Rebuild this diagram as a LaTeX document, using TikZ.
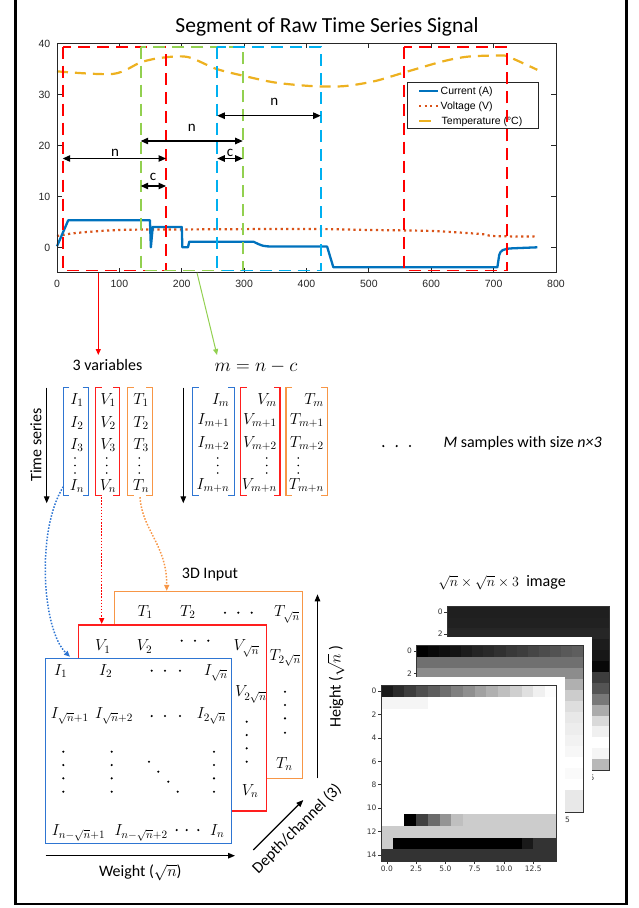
\RequirePackage{fix-cm}
\documentclass[tikz,border=0pt]{standalone}
\usepackage{fontspec}
\setmainfont{Carlito}
\newfontfamily\arialf{Liberation Sans}
\newfontfamily\djvf{DejaVu Sans}
\usetikzlibrary{arrows.meta,calc}
\definecolor{axgray}{HTML}{262626}
\definecolor{cI}{HTML}{0072BD}
\definecolor{cV}{HTML}{D95319}
\definecolor{cT}{HTML}{EDB120}
\definecolor{wred}{HTML}{FF0000}
\definecolor{wgreen}{HTML}{92D050}
\definecolor{wblue}{HTML}{00B0F0}
\definecolor{mblue}{HTML}{2E75D2}
\definecolor{mred}{HTML}{FF1E1E}
\definecolor{morange}{HTML}{F79646}
\definecolor{hmtxt}{HTML}{333333}
\newcommand\hmrow[5]{\foreach \gv [count=\ci from 0] in {#5}{\fill[white!\gv!black] ({#1+\ci*#3},{#2}) rectangle ++({#3+0.25},{#4+0.25});}}
\newcommand\hmbox[4]{%
 \draw[hmframe] (#1,#2) rectangle ({#1+15*#3},{#2+15*#4});
 \foreach \ri in {0,2,...,14}{\draw[hmframe] (#1,{#2+(\ri+0.5)*#4}) -- ++(-3,0);}
 \foreach \xv in {0,2.5,5,7.5,10,12.5}{\draw[hmframe] ({#1+(\xv+0.5)*#3},{#2+15*#4}) -- ++(0,3);}}
\newcommand\mbrk[2]{%
 \draw[#2, line width=1.4pt] ($(#1.north west)+(6,0)$) -- (#1.north west) -- (#1.south west) -- ($(#1.south west)+(6,0)$);
 \draw[#2, line width=1.4pt] ($(#1.north east)+(-6,0)$) -- (#1.north east) -- (#1.south east) -- ($(#1.south east)+(-6,0)$);}
\begin{document}
\begin{tikzpicture}[x=1pt,y=-1pt,
  ticklbl/.style={inner sep=0pt, font=\arialf\fontsize{10.5}{12}\selectfont, text=axgray},
  legtxt/.style={inner sep=0pt, font=\arialf\fontsize{10.5}{12}\selectfont, text=black},
  txt/.style={inner sep=0pt, font=\fontsize{16}{19}\selectfont},
  nclbl/.style={inner sep=0pt, font=\fontsize{15}{18}\selectfont, anchor=base},
  ment/.style={inner sep=0pt, font=\fontsize{16}{19}\selectfont},
  axisline/.style={draw=axgray, line width=0.8pt},
  winbox/.style={line width=1.8pt, dash pattern=on 12pt off 7pt},
  dimarr/.style={line width=1.1pt, {Triangle[length=7.5pt,width=6.5pt]}-{Triangle[length=7.5pt,width=6.5pt]}},
  bigarr/.style={line width=1.2pt, -{Triangle[length=7pt,width=5.5pt]}},
  thinarr/.style={line width=1pt, -{Triangle[length=6pt,width=5pt]}},
  dotconn/.style={line width=1.5pt, dash pattern=on 1.5pt off 1.6pt, -{Triangle[length=6pt,width=5pt]}},
  brnode/.style={inner sep=0pt, outer sep=0pt, draw=none},
  box3d/.style={fill=white, line width=1.3pt, inner sep=0pt, outer sep=0pt, anchor=north west},
  hmframe/.style={draw=hmtxt, line width=0.6pt},
  hmlab/.style={inner sep=0pt, font=\djvf\fontsize{7.5}{9}\selectfont, text=hmtxt},
  mdot/.style={fill=black},
]
\useasboundingbox (0,0) rectangle (638,908);
% outer frame
\draw[line width=2.8pt] (15.3,-10) -- (15.3,904) -- (626.3,904) -- (626.3,-10);

% title
\node[inner sep=0pt, font=\fontsize{21.5}{26}\selectfont, anchor=base] (title) at (327,32.5) {Segment of Raw Time Series Signal};

% curves
\begin{scope}[shift={(57pt,-247.3pt)}, x=0.62375pt, y=5.1pt]
 \draw[cT, line width=2.2pt, dash pattern=on 11pt off 7pt] plot[smooth, tension=0.5] coordinates {(0,34.5) (90,34) (135,36.3) (170,37.2) (210,37.3) (255,35) (300,33.6) (350,32.3) (410,31.6) (460,31.6) (510,32.6) (560,34.4) (620,36.5) (660,37.4) (710,37.6) (725,37.3) (770,34.8)};
 \draw[cV, line width=2.2pt, dash pattern=on 2.2pt off 3.4pt] plot[smooth] coordinates {(0,2.2) (30,2.8) (100,3.4) (200,3.5) (400,3.6) (500,3.4) (600,3.2) (680,2.6) (700,2.2) (770,2.1)};
 \draw[cI, line width=2.3pt, line join=round] (0,0.2) -- (18,5.3) -- (149,5.3) -- (150.5,0) -- (153.5,4) -- (200,4) -- (201,0) -- (210,0) -- (212,1.1) -- (315,1.1) .. controls (330,0.2) .. (346,0.15) -- (433,0.15) -- (443,-3.9) -- (706,-3.9) -- (709,-1.5) .. controls (711,-0.6) and (715,-0.3) .. (730,-0.2) -- (770,0);
\end{scope}

% axes
\draw[axisline] (57,43.3) rectangle (556,272.8);
\foreach \tk in {100,200,...,700}{\pgfmathsetmacro\px{57+0.62375*\tk}
  \draw[axisline] (\px,272.8) -- ++(0,-5); \draw[axisline] (\px,43.3) -- ++(0,5);}
\foreach \vk in {0,10,20,30}{\pgfmathsetmacro\py{247.3-5.1*\vk}
  \draw[axisline] (57,\py) -- ++(5,0); \draw[axisline] (556,\py) -- ++(-5,0);}
\foreach \tk in {0,100,...,800}{\pgfmathsetmacro\px{57+0.62375*\tk}
  \node[ticklbl, anchor=base] (xt\tk) at (\px,287.5) {\tk};}
\foreach \vk in {0,10,20,30,40}{\pgfmathsetmacro\py{247.3-5.1*\vk+3.8}
  \node[ticklbl, anchor=base east] (yt\vk) at (50.5,\py) {\vk};}

% legend
\node[draw=axgray, line width=0.8pt, fill=white, minimum width=131pt, minimum height=46.6pt, anchor=north west, inner sep=0pt] (leg) at (406.7,81.7) {};
\draw[cI, line width=2.2pt] (419,90.7) -- (438,90.7);
\draw[cV, line width=2.2pt, dash pattern=on 2.2pt off 3.4pt] (419,106) -- (438,106);
\draw[cT, line width=2.2pt] (419,121) -- (431,121);
\node[legtxt, anchor=base west] (l1) at (440.5,94.5) {Current (A)};
\node[legtxt, anchor=base west] (l2) at (440.5,109.8) {Voltage (V)};
\node[legtxt, anchor=base west] (l3) at (441.5,124.8) {Temperature (°C)};

% windows
\draw[winbox, wred] (62.7,46.7) rectangle (166,270.5);
\draw[winbox, wgreen] (140.7,46.7) rectangle (242.7,270.5);
\draw[winbox, wblue] (217.3,46.7) rectangle (320.7,270.5);
\draw[winbox, wred] (404.3,46.7) rectangle (507.3,270.5);

% dimension arrows
\coordinate (n1a) at (62.7,158.5); \coordinate (n1b) at (166,158.5);
\coordinate (c1a) at (140.7,186); \coordinate (c1b) at (166,186);
\coordinate (n2a) at (140.7,141); \coordinate (n2b) at (242.7,141);
\coordinate (c2a) at (217.3,158.5); \coordinate (c2b) at (242.7,158.5);
\coordinate (n3a) at (217.3,115.7); \coordinate (n3b) at (320.7,115.7);
\draw[dimarr] (n1a) -- (n1b);
\draw[dimarr] (c1a) -- (c1b);
\draw[dimarr] (n2a) -- (n2b);
\draw[dimarr] (c2a) -- (c2b);
\draw[dimarr] (n3a) -- (n3b);
\node[nclbl] (n1l) at (115,156.5) {n};
\node[nclbl] (c1l) at (153,180.5) {c};
\node[nclbl] (n2l) at (191.7,131.5) {n};
\node[nclbl] (c2l) at (230,156.5) {c};
\node[nclbl] (n3l) at (274.3,105) {n};

% arrows to matrices
\coordinate (pr) at (98.3,272.8); \coordinate (vr) at (98.3,355);
\coordinate (pg) at (197,272.8); \coordinate (vg) at (217,355);
\draw[thinarr, wred] (pr) -- (vr);
\draw[thinarr, wgreen] (pg) -- (vg);

\node[txt, anchor=base] (vars) at (107.5,370.7) {3 variables};
\node[inner sep=0pt, font=\fontsize{19}{22}\selectfont, anchor=base] (mnc) at (256,371.7) {$m = n - c$};

% time series arrows
\coordinate (ts1a) at (46.7,387.7); \coordinate (ts1b) at (46.7,503.3);
\coordinate (ts2a) at (183.3,387.7); \coordinate (ts2b) at (183.3,503.3);
\draw[bigarr] (ts1a) -- (ts1b);
\draw[bigarr] (ts2a) -- (ts2b);
\node[txt, anchor=base, rotate=90] (tslab) at (41.3,445) {Time series};

% brackets left group
\node[brnode, minimum width=25.4pt, minimum height=108pt] (Ib) at (76,441.7) {};
\node[brnode, minimum width=23.6pt, minimum height=108pt] (Vb) at (107.5,441.7) {};
\node[brnode, minimum width=24.6pt, minimum height=108pt] (Tb) at (140,441.7) {};
\mbrk{Ib}{mblue}\mbrk{Vb}{mred}\mbrk{Tb}{morange}
% brackets right group
\node[brnode, minimum width=41.6pt, minimum height=108pt] (Imb) at (213.5,441.7) {};
\node[brnode, minimum width=39.3pt, minimum height=108pt] (Vmb) at (260.35,441.7) {};
\node[brnode, minimum width=41.3pt, minimum height=108pt] (Tmb) at (306.65,441.7) {};
\mbrk{Imb}{mblue}\mbrk{Vmb}{mred}\mbrk{Tmb}{morange}

% left entries
\node[ment, anchor=base] (a11) at (77,404.5) {$I_1$};
\node[ment, anchor=base] (a12) at (77,427) {$I_2$};
\node[ment, anchor=base] (a13) at (77,449.5) {$I_3$};
\node[ment, anchor=base] (a1n) at (77,490.5) {$I_n$};
\node[ment, anchor=base] (a21) at (108,404.5) {$V_1$};
\node[ment, anchor=base] (a22) at (108,427) {$V_2$};
\node[ment, anchor=base] (a23) at (108,449.5) {$V_3$};
\node[ment, anchor=base] (a2n) at (108,490.5) {$V_n$};
\node[ment, anchor=base] (a31) at (141,404.5) {$T_1$};
\node[ment, anchor=base] (a32) at (141,427) {$T_2$};
\node[ment, anchor=base] (a33) at (141,449.5) {$T_3$};
\node[ment, anchor=base] (a3n) at (141,490.5) {$T_n$};
% right entries
\node[ment, anchor=base east] (b11) at (229.5,404.5) {$I_m$};
\node[ment, anchor=base east] (b12) at (229.5,424.5) {$I_{m+1}$};
\node[ment, anchor=base east] (b13) at (229.5,447.5) {$I_{m+2}$};
\node[ment, anchor=base east] (b1n) at (229.5,489.5) {$I_{m+n}$};
\node[ment, anchor=base east] (b21) at (277,404.5) {$V_m$};
\node[ment, anchor=base east] (b22) at (277,424.5) {$V_{m+1}$};
\node[ment, anchor=base east] (b23) at (277,447.5) {$V_{m+2}$};
\node[ment, anchor=base east] (b2n) at (277,489.5) {$V_{m+n}$};
\node[ment, anchor=base east] (b31) at (324,404.5) {$T_m$};
\node[ment, anchor=base east] (b32) at (324,424.5) {$T_{m+1}$};
\node[ment, anchor=base east] (b33) at (324,447.5) {$T_{m+2}$};
\node[ment, anchor=base east] (b3n) at (324,489.5) {$T_{m+n}$};
% vertical dots
\foreach \dx in {75,106.7,139.3,217.7,266.7,298.3}{\foreach \dy in {458,465.5,473}{\fill[mdot] (\dx,\dy) circle (0.9pt);}}
% ellipsis
\foreach \dx in {383.3,396.7,410}{\fill[mdot] (\dx,446) circle (1.2pt);}
\node[txt, anchor=base west] (msz) at (443.3,447.3) {\textit{M} samples with size \textit{n×3}};

% 3D boxes
\node[box3d, draw=morange, minimum width=188.4pt, minimum height=186.6pt] (Tbox) at (114.3,591.7) {};
\node[box3d, draw=mred, minimum width=188.4pt, minimum height=186pt] (Vbox) at (78.3,625) {};
\node[box3d, draw=mblue, minimum width=186pt, minimum height=185pt] (Ibox) at (45.7,658.3) {};
\node[txt, anchor=base] (in3d) at (210,578.5) {3D Input};

% dotted connectors
\draw[dotconn, mblue] ($(Ib.south west)+(0,-9)$) .. controls (36,530) and (42,630) .. ($(Ibox.north west)+(24.3,-1.5)$);
\draw[dotconn, wred] ($(Vb.south west)+(6,1.5)$) -- ($(Vbox.north west)+(23.4,-1)$);
\draw[dotconn, morange] ($(Tb.south)+(0,1.5)$) .. controls (142,530) and (167,545) .. ($(Tbox.north west)+(52.4,-0.8)$);

% T entries
\node[ment, anchor=base west] (t1) at (137.3,616) {$T_1$};
\node[ment, anchor=base west] (t2) at (180,616) {$T_2$};
\node[ment, anchor=base west] (tsn) at (274,616.7) {$T_{\sqrt{n}}$};
\node[ment, anchor=base west] (t2sn) at (269.3,660) {$T_{2\sqrt{n}}$};
\node[ment, anchor=base west] (tn) at (276,768.3) {$T_n$};
\foreach \dx in {225,238.3,251.7}{\fill[mdot] (\dx,612.7) circle (1.2pt);}
\foreach \dy in {691.7,705,718.3,732.7}{\fill[mdot] (285,\dy) circle (1.2pt);}
% V entries
\node[ment, anchor=base west] (v1) at (95,650.7) {$V_1$};
\node[ment, anchor=base west] (v2) at (136.7,650.7) {$V_2$};
\node[ment, anchor=base west] (vsn) at (233.3,650.7) {$V_{\sqrt{n}}$};
\node[ment, anchor=base west] (v2sn) at (235,696.7) {$V_{2\sqrt{n}}$};
\node[ment, anchor=base west] (vn) at (241.7,795) {$V_n$};
\foreach \dx in {181.7,195,208.3}{\fill[mdot] (\dx,640.7) circle (1.2pt);}
\foreach \dy in {721.7,735,748.3,761.7}{\fill[mdot] (246.7,\dy) circle (1.2pt);}
% I entries
\node[ment, anchor=base west] (i1) at (54,675) {$I_1$};
\node[ment, anchor=base west] (i2) at (99,675) {$I_2$};
\node[ment, anchor=base west] (isn) at (204,675) {$I_{\sqrt{n}}$};
\node[ment, anchor=base west] (isn1) at (50.7,718.3) {$I_{\sqrt{n}+1}$};
\node[ment, anchor=base west] (isn2) at (95,718.3) {$I_{\sqrt{n}+2}$};
\node[ment, anchor=base west] (i2sn) at (196.7,718.3) {$I_{2\sqrt{n}}$};
\node[ment, anchor=base west] (inm1) at (51.7,835) {$I_{n-\sqrt{n}+1}$};
\node[ment, anchor=base west] (inm2) at (114.3,835) {$I_{n-\sqrt{n}+2}$};
\node[ment, anchor=base west] (inn) at (210,835) {$I_n$};
\foreach \dx in {151.7,165,180}{\fill[mdot] (\dx,670.7) circle (1.2pt); \fill[mdot] (\dx,716) circle (1.2pt);}
\foreach \dx in {176.7,186.7,198.3}{\fill[mdot] (\dx,830) circle (1.2pt);}
\foreach \dx in {63.3,111.7,214}{\foreach \dy in {751.7,765,778.3,791.7}{\fill[mdot] (\dx,\dy) circle (1.2pt);}}
\foreach \dx/\dy in {149/761.7,158.3/771.7,168.3/781.7,177.7/791.7}{\fill[mdot] (\dx,\dy) circle (1.2pt);}

% axis arrows of 3D input
\coordinate (w0) at (45.7,855.7); \coordinate (w1) at (235,855.7);
\coordinate (h0) at (317.5,778.3); \coordinate (h1) at (317.5,594.3);
\coordinate (d0) at (253.3,850); \coordinate (d1) at (303.3,800);
\draw[bigarr] (w0) -- (w1);
\draw[bigarr] (h0) -- (h1);
\draw[bigarr] (d0) -- (d1);
\node[txt, anchor=base] (wlab) at (140.3,876.7) {Weight ($\sqrt{n}$)};
\node[txt, anchor=base, rotate=90] (hlab) at (340.5,686.7) {Height ($\sqrt{n}$ )};
\node[txt, rotate=45] (dlab) at (297,829) {Depth/channel (3)};

% image label
\node[txt, anchor=base] (imlab) at (502,586.7) {\fontsize{14}{17}\selectfont$\sqrt{n}\times\sqrt{n}\times 3$\fontsize{16}{19}\selectfont\ \ image};

% back heatmap
\foreach \gv [count=\ri from 0] in {12,13,15,11,9,3,24,33,47,67,85,94,100,96,72}{\fill[white!\gv!black] (447.3,{606.7+\ri*10.89}) rectangle ++(162.2,10.95);}
\hmbox{447.3}{606.7}{10.8}{10.89}
\node[hmlab, anchor=east] (bky0) at (442.8,612.1) {0};
\node[hmlab, anchor=east] (bky2) at (442.8,633.9) {2};
\node[hmlab, anchor=north] (bkx5) at (592,774.5) {5};
% middle
\fill[white] (398,636.7) rectangle (591.7,830);
\hmrow{416.7}{645.7}{11.107}{11.107}{0,3,6,8,11,14,16,19,22,24,27,30,32,35,37}
\foreach \gv [count=\ri from 1] in {44,55,69,80,87,91,93,95,97,100,98,100,91,91}{\fill[white!\gv!black] (416.7,{645.7+\ri*11.107}) rectangle ++(166.6,11.2);}
\hmbox{416.7}{645.7}{11.107}{11.107}
\node[hmlab, anchor=east] (mdy0) at (412.2,651.25) {0};
\node[hmlab, anchor=east] (mdy2) at (412.2,673.5) {2};
% front
\fill[white] (362,677) rectangle (565,884);
\node[hmlab, anchor=north west] (mdx5) at (565,816.8) {5};
\hmrow{381}{685}{11.713}{11.733}{10,17,24,31,37,43,50,56,63,69,75,81,88,94,99}
\hmrow{381}{696.733}{11.713}{11.733}{96,96,96,96}
\hmrow{381}{814.063}{11.713}{11.733}{100,100,0,25,42,58,75,80,80,80,80,80,80,80,80}
\hmrow{381}{825.796}{11.713}{11.733}{80,80,80,80,80,80,80,80,80,80,80,80,80,80,80}
\hmrow{381}{837.529}{11.713}{11.733}{80,0,0,0,0,0,0,0,0,0,0,0,10,20,20}
\fill[white!20!black] (381,849.262) rectangle (556.7,861);
\hmbox{381}{685}{11.713}{11.733}
\foreach \ri in {0,2,...,14}{\node[hmlab, anchor=east] (fry\ri) at (376.5,{685+(\ri+0.5)*11.733}) {\ri};}
\foreach \xv/\xl [count=\xi] in {0/0.0,2.5/2.5,5/5.0,7.5/7.5,10/10.0,12.5/12.5}{\node[hmlab, anchor=north] (frx\xi) at ({381+(\xv+0.5)*11.713},865.5) {\xl};}
\end{tikzpicture}
\end{document}
